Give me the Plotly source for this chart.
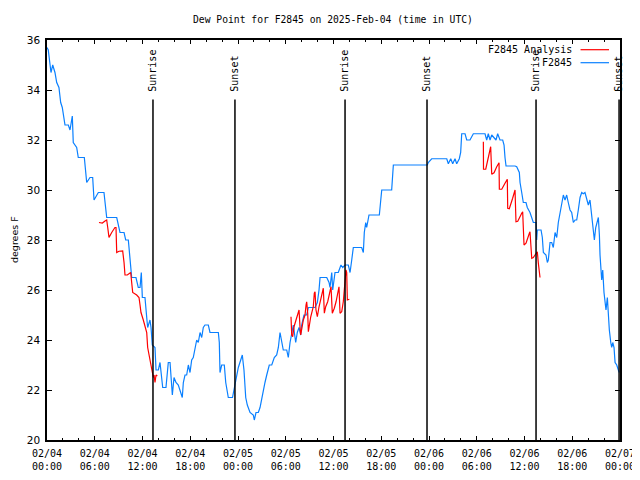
import pandas as pd
import plotly.graph_objects as go

START = "2025-02-04 00:00"

# F2845 observed dew point (hours after start, degrees F)
obs_hours = [0, 0.16, 0.5, 0.72, 1.0, 1.22, 1.5, 1.72, 1.92, 2.14, 2.26, 2.68, 2.89, 3.18, 3.3, 3.73, 3.93,
             4.69, 4.86, 4.99, 5.4, 5.74, 5.91, 6.45, 7.16, 7.38, 7.5, 8.76, 9.17, 9.68, 9.89, 10.22, 10.43,
             10.64, 11.18, 11.47, 11.69, 11.85, 11.98, 12.31, 12.53, 12.65, 12.94, 13.07, 13.23, 13.57, 13.7,
             13.99, 14.2, 14.33, 14.54, 14.95, 15.04, 15.24, 15.46, 15.67, 15.75, 15.96, 16.21, 16.5, 16.8,
             17.0, 17.13, 17.34, 17.55, 17.76, 17.97, 18.18, 18.38, 18.6, 18.81, 19.01, 19.23, 19.44, 19.64,
             19.85, 20.27, 20.48, 21.53, 21.65, 21.74, 21.95, 22.28, 22.46, 22.78, 23.31, 23.62, 23.84, 24.04,
             24.34, 24.54, 24.75, 24.97, 25.17, 25.51, 25.92, 26.05, 26.26, 26.55, 26.77, 26.98, 27.18, 27.39,
             27.61, 27.93, 28.24, 28.56, 28.86, 29.07, 29.28, 29.53, 29.69, 30.12, 30.32, 30.54, 30.75, 30.95,
             31.25, 31.45, 31.67, 31.88, 32.0, 32.29, 32.63, 32.84, 33.68, 33.97, 34.18, 34.31, 35.15, 35.44,
             35.56, 35.78, 35.9, 36.19, 36.6, 36.94, 37.16, 37.45, 37.86, 38.08, 38.29, 38.49, 39.54, 39.75,
             39.87, 40.05, 40.17, 40.46, 41.76, 41.97, 42.06, 43.31, 43.44, 43.52, 47.79, 47.91, 48.34, 50.23,
             50.43, 50.73, 50.98, 51.27, 51.48, 51.81, 51.98, 52.11, 52.53, 52.74, 53.15, 53.57, 55.04, 55.25,
             55.45, 55.67, 55.88, 56.42, 56.63, 56.92, 57.26, 57.43, 57.55, 57.68, 58.81, 59.02, 59.35, 59.44,
             59.65, 59.85, 60.19, 60.35, 60.69, 61.11, 61.45, 61.53, 61.61, 62.08, 62.24, 62.37, 62.7, 62.87,
             62.99, 63.21, 63.42, 63.62, 63.84, 64.05, 64.25, 64.46, 64.68, 64.88, 65.09, 65.3, 65.5, 65.72,
             65.93, 66.14, 66.35, 66.56, 66.76, 66.98, 67.19, 67.39, 67.6, 67.82, 68.02, 68.23, 68.45, 68.65,
             68.78, 68.95, 69.08, 69.28, 69.41, 69.49, 69.7, 69.83, 69.99, 70.12, 70.24, 70.41, 70.54, 70.66,
             70.84, 70.96, 71.09, 71.25, 71.38, 71.59, 71.79, 71.91]
obs_dewpt = [35.7, 35.6, 34.7, 35.0, 34.7, 34.3, 34.1, 33.5, 33.3, 32.9, 32.6, 32.6, 32.4, 32.96, 31.9, 31.7, 31.3,
             31.3, 30.5, 30.3, 30.5, 30.5, 29.6, 29.9, 29.9, 29.1, 28.9, 28.9, 28.3, 28.3, 28.0, 28.0, 27.1,
             26.5, 26.5, 26.1, 26.1, 26.7, 25.7, 25.7, 24.9, 24.5, 24.8, 24.5, 23.8, 23.7, 22.8,
             22.8, 23.1, 22.8, 22.1, 22.1, 22.4, 23.1, 23.1, 22.3, 21.8, 22.5, 22.3, 22.2, 21.9,
             21.7, 22.3, 22.6, 22.6, 23.0, 22.7, 23.2, 23.3, 23.7, 24.0, 23.9, 24.3, 24.1, 24.5,
             24.6, 24.6, 24.3, 24.3, 23.9, 22.7, 23.0, 23.0, 22.3, 21.7, 21.7, 22.2, 22.5, 22.9,
             23.2, 23.4, 22.8, 21.7, 21.4, 21.1, 21.0, 20.8, 21.1, 21.1, 21.3, 21.7, 22.0, 22.3,
             22.6, 23.0, 23.0, 23.3, 23.4, 23.7, 24.3, 23.9, 23.6, 23.6, 23.3, 23.9, 24.2, 24.6,
             23.9, 24.3, 24.5, 24.2, 24.6, 25.0, 25.0, 25.3, 25.3, 25.5, 26.0, 26.5, 26.5, 26.3,
             26.1, 26.7, 26.0, 26.7, 26.7, 27.0, 26.9, 27.0, 27.0, 26.7, 27.2, 27.7, 27.7, 27.5,
             28.3, 28.7, 28.5, 29.0, 29.0, 29.7, 30.0, 30.0, 30.7, 31.0, 31.0, 31.1, 31.25, 31.25,
             31.05, 31.25, 31.05, 31.25, 31.05, 31.25, 31.5, 32.25, 32.25, 32.0, 32.0, 32.25, 32.25, 32.0,
             32.25, 32.0, 32.2, 32.0, 32.25, 32.0, 32.0, 31.8, 31.3, 30.96, 30.96, 30.93, 30.7, 30.3,
             29.9, 29.5, 29.5, 29.3, 29.1, 28.7, 28.7, 28.0, 28.4, 28.4, 28.1, 27.5, 27.4, 27.1,
             27.2, 27.9, 27.9, 27.7, 28.3, 28.1, 28.7, 29.1, 29.4, 29.8, 29.6, 29.8, 29.5, 29.2,
             29.1, 28.7, 28.8, 28.8, 29.2, 29.7, 29.9, 29.85, 29.9, 29.6, 29.4, 29.6, 29.0, 28.3,
             28.0, 28.5, 28.7, 28.9, 28.2, 27.4, 26.4, 26.8, 25.9, 25.5, 25.2, 25.7, 24.8, 24.4,
             23.9, 23.7, 23.9, 23.7, 23.1, 23.0, 22.8, 22.7]

# F2845 Analysis (three separate runs)
ana1_hours = [6.53, 6.95, 7.29, 7.5, 7.63, 7.79, 8.13, 8.54, 8.67, 8.76, 9.05, 9.51, 9.68, 9.8, 10.09, 10.52,
              10.64, 10.77, 11.27, 11.56, 11.69, 11.81, 12.1, 12.31, 12.53, 12.65, 12.82, 13.07, 13.23, 13.36,
              13.45, 13.57, 13.7, 13.86]
ana1_dewpt = [28.7, 28.68, 28.76, 28.8, 28.5, 28.1, 28.3, 28.5, 28.5, 27.5, 27.55, 27.56, 27.1, 26.6, 26.6, 26.7,
              26.3, 25.9, 25.8, 25.7, 25.4, 25.1, 24.8, 24.5, 24.3, 23.7, 23.4, 23.1, 22.7, 22.5,
              22.6, 22.3, 22.6, 22.56]
ana2_hours = [30.66, 30.75, 30.87, 31.04, 31.29, 31.45, 31.67, 31.79, 31.88, 32.21, 32.42, 32.55, 32.63, 32.76,
              32.84, 33.14, 33.34, 33.46, 33.59, 33.68, 33.8, 33.97, 34.18, 34.39, 34.64, 34.72, 34.85, 35.02,
              35.27, 35.56, 35.69, 35.85, 36.1, 36.32, 36.53, 36.69, 36.82, 37.03, 37.23, 37.36, 37.45, 37.57,
              37.66, 37.74, 37.99]
ana2_dewpt = [24.93, 24.2, 24.13, 24.53, 24.8, 25.0, 25.2, 24.53, 24.2, 24.8, 25.0, 25.4, 25.53, 25.07,
              24.33, 24.93, 25.2, 25.33, 25.87, 25.93, 25.2, 24.93, 25.33, 25.6, 26.0, 26.07, 25.07, 25.33,
              25.53, 26.0, 26.13, 25.07, 25.27, 25.53, 25.87, 26.13, 25.07, 25.13, 25.53, 26.07, 26.53, 26.8,
              26.7, 25.6, 25.63]
ana3_hours = [54.83, 54.85, 55.13, 55.45, 55.75, 55.88, 56.17, 56.51, 56.8, 56.84, 57.14, 57.55, 57.84, 57.89,
              58.09, 58.51, 58.81, 58.93, 59.15, 59.65, 59.77, 59.94, 60.19, 60.61, 60.69, 60.91, 61.11, 61.32,
              61.61, 61.74, 61.86, 61.95]
ana3_dewpt = [31.93, 30.83, 30.83, 31.33, 31.73, 30.63, 30.69, 30.93, 31.09, 30.03, 30.03, 30.27, 30.43, 29.27,
              29.25, 29.67, 30.0, 28.73, 28.75, 29.07, 29.13, 27.8, 27.87, 28.27, 28.33, 27.27, 27.3, 27.4,
              27.53, 27.07, 26.53, 26.5]

sun_times = ["2025-02-04 13:19", "2025-02-04 23:37", "2025-02-05 13:27",
             "2025-02-05 23:45", "2025-02-06 13:27", "2025-02-06 23:53"]
sun_labels = ["Sunrise", "Sunset", "Sunrise", "Sunset", "Sunrise", "Sunset"]

y_ticks = [20, 22, 24, 26, 28, 30, 32, 34, 36]

base = pd.Timestamp(START)


def to_time(hours):
    return [base + pd.Timedelta(hours=h) for h in hours]


ana_x = to_time(ana1_hours) + [None] + to_time(ana2_hours) + [None] + to_time(ana3_hours)
ana_y = ana1_dewpt + [None] + ana2_dewpt + [None] + ana3_dewpt

MONO = "DejaVu Sans Mono"
BLUE = "#0a80ff"
RED = "#ff0000"

# the page body has an 8px margin, so the figure is drawn 8px right/down
OFF = 8
# plot area geometry in window pixels
L, R, T, B = 47, 620.5, 40, 440
PW, PH = R - L, B - T

fig = go.Figure()
fig.add_trace(go.Scatter(x=to_time(obs_hours), y=obs_dewpt, mode="lines", name="F2845",
                         line=dict(color=BLUE, width=1.2), showlegend=False))
fig.add_trace(go.Scatter(x=ana_x, y=ana_y, mode="lines", name="F2845 Analysis",
                         line=dict(color=RED, width=1.2), connectgaps=False, showlegend=False))

for t, lab in zip(sun_times, sun_labels):
    fig.add_shape(type="line", x0=t, x1=t, y0=20, y1=33.62, xref="x", yref="y",
                  line=dict(color="black", width=1.5))
    fig.add_annotation(x=t, y=33.85, xref="x", yref="y", text=lab, textangle=-90,
                       showarrow=False, xanchor="center", yanchor="bottom",
                       font=dict(family=MONO, size=10, color="black"))

# gnuplot-style legend: text right-aligned, line sample to the right
for i, (name, col) in enumerate([("F2845 Analysis", RED), ("F2845", BLUE)]):
    ypos = 1 - (9.7 + 13 * i) / PH
    fig.add_annotation(x=(574 - L) / PW, y=ypos, xref="paper", yref="paper", text=name,
                       showarrow=False, xanchor="right", yanchor="middle",
                       font=dict(family=MONO, size=10, color="black"))
    fig.add_shape(type="line", xref="paper", yref="paper",
                  x0=(581 - L) / PW, x1=(609.5 - L) / PW, y0=ypos, y1=ypos,
                  line=dict(color=col, width=1.2))

# title and y-axis label
fig.add_annotation(x=(333 - L) / PW, y=1 + (T - 20) / PH, xref="paper", yref="paper",
                   text="Dew Point for F2845 on 2025-Feb-04 (time in UTC)", showarrow=False,
                   xanchor="center", yanchor="middle", font=dict(family=MONO, size=9.7, color="black"))
fig.add_annotation(x=(14 - L) / PW, y=(B - 240) / PH, xref="paper", yref="paper",
                   text="degrees F", textangle=-90, showarrow=False,
                   xanchor="center", yanchor="middle", font=dict(family="DejaVu Sans", size=9.5, color="black"))

fig.update_layout(
    width=640 - OFF, height=480 - OFF,
    margin=dict(l=L - OFF, r=640 - R, t=T - OFF, b=480 - B, pad=0, autoexpand=False),
    paper_bgcolor="white", plot_bgcolor="white",
    font=dict(family=MONO, size=10, color="black"),
)
fig.update_xaxes(
    range=[base, base + pd.Timedelta(hours=72)],
    tickmode="linear", tick0=base, dtick=6 * 3600 * 1000,
    tickformat="%m/%d<br>%H:%M",
    ticks="inside", ticklen=4, tickcolor="black", tickwidth=1,
    minor=dict(ticks="inside", dtick=2 * 3600 * 1000, ticklen=2, tickcolor="black", tickwidth=1),
    showline=True, linecolor="black", linewidth=1.5, mirror="ticks",
    showgrid=False, zeroline=False, automargin=False, ticklabelstandoff=3,
    tickfont=dict(family=MONO, size=10, color="black"),
)
fig.update_yaxes(
    range=[20, 36], tickvals=y_ticks, ticktext=[str(v) for v in y_ticks],
    ticks="inside", ticklen=5, tickcolor="black", tickwidth=1,
    showline=True, linecolor="black", linewidth=1.5, mirror="ticks",
    showgrid=False, zeroline=False, automargin=False, ticklabelstandoff=3,
    tickfont=dict(family="DejaVu Sans", size=10.5, color="black"),
)

fig.write_html("out.html")
